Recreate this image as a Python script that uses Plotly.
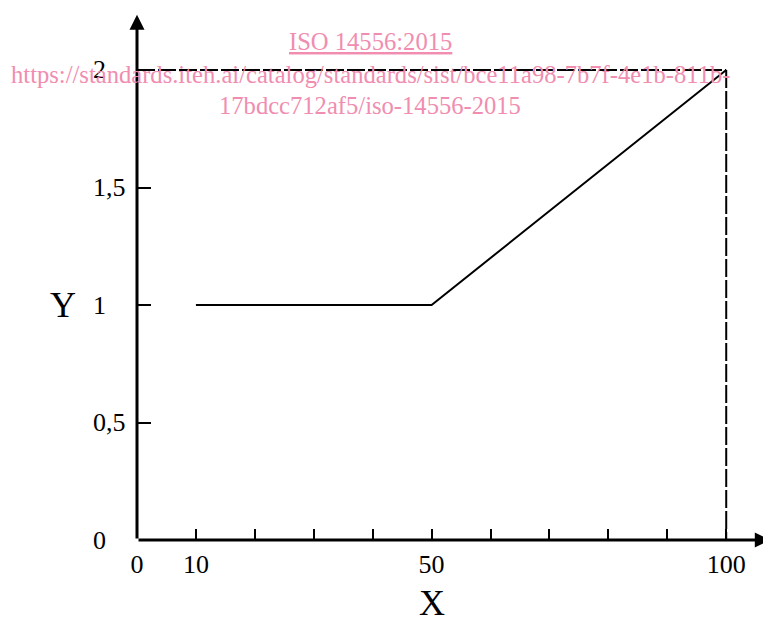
import plotly.graph_objects as go

# Data
curve_x = [10, 50, 100]
curve_y = [1, 1, 2]
limit_h_x = [0, 100]
limit_h_y = [2, 2]
limit_v_x = [100, 100]
limit_v_y = [2, 0]
x_tick_vals = [0, 10, 20, 30, 40, 50, 60, 70, 80, 90, 100]
x_tick_text = ["0", "10", "", "", "", "50", "", "", "", "", "100"]
y_tick_vals = [0, 0.5, 1, 1.5, 2]
y_tick_text = ["0", "0,5", "1", "1,5", "2"]
watermark = ["<u>ISO 14556:2015</u>",
             "https://standards.iteh.ai/catalog/standards/sist/bce11a98-7b7f-4e1b-811b-",
             "17bdcc712af5/iso-14556-2015"]

FONT = "Liberation Serif"
PINK = "#F08DB0"

fig = go.Figure()
fig.add_trace(go.Scatter(x=limit_h_x, y=limit_h_y, mode="lines",
                         line=dict(color="black", width=2, dash="18px,3px"),
                         hoverinfo="skip", showlegend=False))
fig.add_trace(go.Scatter(x=limit_v_x, y=limit_v_y, mode="lines",
                         line=dict(color="black", width=2, dash="18px,3px"),
                         hoverinfo="skip", showlegend=False))
fig.add_trace(go.Scatter(x=curve_x, y=curve_y, mode="lines",
                         line=dict(color="black", width=2),
                         showlegend=False))

annotations = []
# axis arrows
annotations.append(dict(x=107.4, y=0, ax=0, ay=0, xref="x", yref="y", axref="x", ayref="y",
                        showarrow=True, arrowhead=2, arrowsize=1, arrowwidth=3,
                        arrowcolor="black", text=""))
annotations.append(dict(x=0, y=2.235, ax=0, ay=0, xref="x", yref="y", axref="x", ayref="y",
                        showarrow=True, arrowhead=2, arrowsize=1, arrowwidth=3,
                        arrowcolor="black", text=""))
# y tick labels
for v, t in zip(y_tick_vals, y_tick_text):
    annotations.append(dict(x=-0.072, y=v, xref="paper", yref="y", text=t, showarrow=False,
                            xanchor="left", yanchor="middle",
                            font=dict(family=FONT, size=26, color="black")))
# axis titles
annotations.append(dict(x=-0.1167, y=1, xref="paper", yref="y", text="Y", showarrow=False,
                        xanchor="center", yanchor="middle",
                        font=dict(family=FONT, size=36, color="black")))
annotations.append(dict(x=50, y=-0.118, xref="x", yref="paper", text="X", showarrow=False,
                        xanchor="center", yanchor="middle",
                        font=dict(family=FONT, size=36, color="black")))
# watermark
wm_pos = [(39.6, 2.12), (39.6, 1.98), (39.6, 1.85)]
for (wx, wy), t in zip(wm_pos, watermark):
    annotations.append(dict(x=wx, y=wy, xref="x", yref="y", text=t, showarrow=False,
                            xanchor="center", yanchor="middle",
                            font=dict(family=FONT, size=24.6, color=PINK)))

fig.update_layout(
    width=763, height=611,
    margin=dict(l=129, r=0, t=0, b=79, autoexpand=False),
    paper_bgcolor="white", plot_bgcolor="white",
    annotations=annotations,
    xaxis=dict(range=[0, 107.6], showgrid=False, zeroline=False, showline=False,
               tickmode="array", tickvals=x_tick_vals, ticktext=x_tick_text,
               ticks="inside", ticklen=11, tickwidth=1.5, tickcolor="black",
               ticklabelstandoff=6,
               tickfont=dict(family=FONT, size=26, color="black")),
    yaxis=dict(range=[0, 2.2638], showgrid=False, zeroline=False, showline=False,
               tickmode="array", tickvals=[0.5, 1, 1.5, 2], ticks="inside",
               ticklen=14, tickwidth=1.5, tickcolor="black", showticklabels=False),
)

fig.write_html("out.html")
